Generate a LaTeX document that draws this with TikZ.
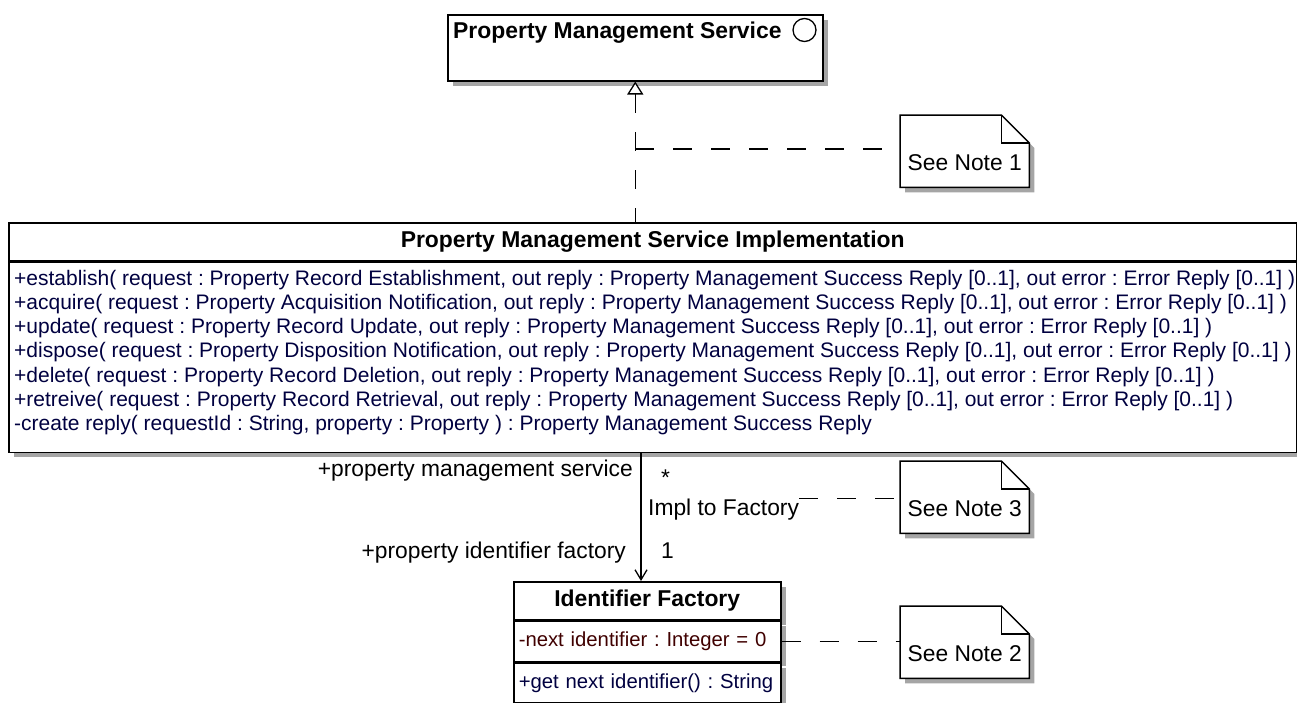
\documentclass[tikz,border=0pt]{standalone}
\usepackage{fontspec}
\setmainfont{Liberation Sans}
\frenchspacing
\usetikzlibrary{arrows.meta, positioning, shadows}

\definecolor{opblue}{RGB}{0,0,64}
\definecolor{attrbrown}{RGB}{64,0,0}
\definecolor{shadowgray}{RGB}{165,165,165}

\tikzset{
  box/.style={draw, fill=white, line width=1.5, inner sep=0,
    drop shadow={shadow xshift=5pt, shadow yshift=-5pt, fill=shadowgray, opacity=1}},
  titletext/.style={font=\fontsize{22.9}{26}\selectfont\bfseries},
  labeltext/.style={font=\fontsize{22.8}{26}\selectfont, inner sep=0},
  optext/.style={font=\fontsize{21}{24}\selectfont, inner sep=0, text=opblue},
  compart/.style={font=\fontsize{20.3}{24}\selectfont, text width=257, inner xsep=5, align=left, minimum width=267},
  notebox/.style={minimum width=129, minimum height=72, inner sep=0},
  notepaper/.style={draw, fill=white, line width=1.5,
    drop shadow={shadow xshift=5pt, shadow yshift=-5pt, fill=shadowgray, opacity=1}},
  linkdash/.style={line width=1.3, dash pattern=on 19pt off 19pt},
  realize/.style={linkdash, {Triangle[open, length=13pt, width=16pt, fill=white]}-},
  assoc/.style={line width=1.3, -{Straight Barb[length=10pt, width=12pt]}},
}

\begin{document}
\begin{tikzpicture}[x=1pt, y=-1pt]
  \useasboundingbox (0,0) rectangle (1297,702);

  % Interface
  \node[box, anchor=north west, minimum width=375, minimum height=66] (svc) at (447,14) {};
  \node[titletext, anchor=base west, inner sep=0] (svcname) at (453,38) {Property Management Service};
  \node[circle, draw, line width=1.3, minimum size=23, inner sep=0] (svcicon) at (804.5,30) {};

  % Implementation class
  \node[box, titletext, anchor=north west, minimum width=1288, minimum height=38] (impltitle) at (8,222) {Property Management Service Implementation};
  \node[box, anchor=north west, minimum width=1288, minimum height=190] (implops) at (impltitle.south west) {};
  \foreach \op [count=\i] in {
      {+establish( request : Property Record Establishment, out reply : Property Management Success Reply [0..1], out error : Error Reply [0..1] )},
      {+acquire( request : Property Acquisition Notification, out reply : Property Management Success Reply [0..1], out error : Error Reply [0..1] )},
      {+update( request : Property Record Update, out reply : Property Management Success Reply [0..1], out error : Error Reply [0..1] )},
      {+dispose( request : Property Disposition Notification, out reply : Property Management Success Reply [0..1], out error : Error Reply [0..1] )},
      {+delete( request : Property Record Deletion, out reply : Property Management Success Reply [0..1], out error : Error Reply [0..1] )},
      {+retreive( request : Property Record Retrieval, out reply : Property Management Success Reply [0..1], out error : Error Reply [0..1] )},
      {-create reply( requestId : String, property : Property ) : Property Management Success Reply}}
    \node[optext, anchor=base west] (op\i) at (14, 285+24.3*\i-24.3) {\op};

  % Factory class
  \node[box, titletext, anchor=north west, minimum width=267, minimum height=38] (ftitle) at (513,581) {Identifier Factory};
  \node[box, compart, anchor=north west, minimum height=40, text=attrbrown] (fattr) at (ftitle.south west) {-next identifier : Integer = 0};
  \node[box, compart, anchor=north west, minimum height=40, text=opblue] (fops) at (fattr.south west) {+get next identifier() : String};

  % Notes
  \foreach \n/\x/\y in {1/900/115, 3/900/461, 2/900/606} {
    \node[notebox, anchor=north west] (note\n) at (\x,\y) {};
    \draw[notepaper] (note\n.north west) -- ([xshift=-28pt]note\n.north east)
      -- ([yshift=-28pt]note\n.north east) -- (note\n.south east) -- (note\n.south west) -- cycle;
    \draw[line width=1.3] ([xshift=-28pt]note\n.north east) |- ([yshift=-28pt]note\n.north east);
    \node[labeltext] (notetext\n) at ([yshift=-11pt]note\n.center) {See Note \n};
  }

  % Realization
  \draw[realize] (svc.south) -- (impltitle.north -| svc.south);
  \draw[linkdash] (svc.south |- 0,149) -- (note1.west |- 0,149);

  % Association
  \coordinate (assocx) at (641,0);
  \draw[assoc] (implops.south -| assocx) -- (ftitle.north -| assocx);
  \node[labeltext, anchor=base east] (srcrole) at (633,476) {+property management service};
  \node[labeltext, anchor=base west] (srcmult) at (661,485) {*};
  \node[labeltext, anchor=base west] (assocname) at (648,515) {Impl to Factory};
  \node[labeltext, anchor=base east] (tgtrole) at (626,558) {+property identifier factory};
  \node[labeltext, anchor=base west] (tgtmult) at (661,558) {1};
  \draw[linkdash] (assocname.north east) -- (note3.west |- assocname.north east);
  \draw[linkdash] (fattr.east) -- (note2.west |- fattr.east);
\end{tikzpicture}
\end{document}
